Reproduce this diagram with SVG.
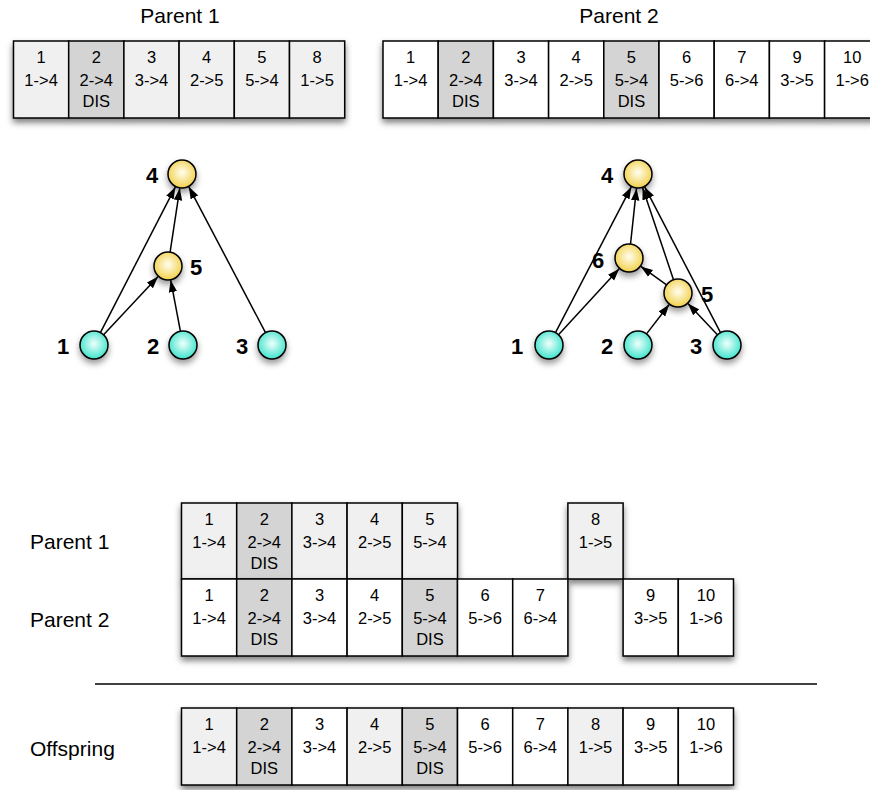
<svg xmlns="http://www.w3.org/2000/svg" width="870" height="790" viewBox="0 0 870 790">
<style>
.w{fill:#ffffff;stroke:#000;stroke-width:1.5}
.l{fill:#f0f0f0;stroke:#000;stroke-width:1.5}
.d{fill:#d4d4d4;stroke:#000;stroke-width:1.5}
.t{font-family:"Liberation Sans",Arial,sans-serif;font-size:16.5px;fill:#000;text-anchor:middle}
.lab{font-family:"Liberation Sans",Arial,sans-serif;font-size:21px;fill:#000}
.num{font-family:"Liberation Sans",Arial,sans-serif;font-size:22px;font-weight:bold;fill:#000;text-anchor:middle}
.e{stroke:#000;stroke-width:1.5;fill:none;marker-end:url(#ar)}
.ny{fill:url(#gy);stroke:#000;stroke-width:1.5}
.nc{fill:url(#gc);stroke:#000;stroke-width:1.5}
</style>
<defs>
<filter id="sh" x="-10%" y="-20%" width="120%" height="150%">
<feDropShadow dx="0" dy="4" stdDeviation="3" flood-color="#000" flood-opacity="0.5"/>
</filter>
<filter id="nsh" x="-50%" y="-50%" width="200%" height="220%">
<feDropShadow dx="0" dy="4" stdDeviation="3" flood-color="#000" flood-opacity="0.4"/>
</filter>
<radialGradient id="gy" cx="50%" cy="45%" r="55%">
<stop offset="0" stop-color="#fffef0"/>
<stop offset="1" stop-color="#f2d04a"/>
</radialGradient>
<radialGradient id="gc" cx="50%" cy="45%" r="55%">
<stop offset="0" stop-color="#f0fffc"/>
<stop offset="1" stop-color="#3ee4cc"/>
</radialGradient>
<marker id="ar" viewBox="0 0 12 10" refX="12" refY="5" markerWidth="12" markerHeight="10" markerUnits="userSpaceOnUse" orient="auto">
<path d="M0,0.8 L12,5 L0,9.2 z" fill="#000"/>
</marker>
</defs>
<rect width="870" height="790" fill="#fff"/>

<text class="lab" x="180" y="23" text-anchor="middle">Parent 1</text>
<text class="lab" x="619" y="23" text-anchor="middle">Parent 2</text>

<g id="genome-parent1-top" filter="url(#sh)">
<rect class="l" x="13.5" y="41" width="55.2" height="77"/>
<rect class="d" x="68.7" y="41" width="55.2" height="77"/>
<rect class="l" x="123.9" y="41" width="55.2" height="77"/>
<rect class="l" x="179.1" y="41" width="55.2" height="77"/>
<rect class="l" x="234.3" y="41" width="55.2" height="77"/>
<rect class="l" x="289.5" y="41" width="55.2" height="77"/>
</g>
<g id="genome-parent1-top-text">
<text class="t" x="41.1" y="63">1</text><text class="t" x="41.1" y="86">1-&gt;4</text>
<text class="t" x="96.3" y="63">2</text><text class="t" x="96.3" y="86">2-&gt;4</text><text class="t" x="96.3" y="107">DIS</text>
<text class="t" x="151.5" y="63">3</text><text class="t" x="151.5" y="86">3-&gt;4</text>
<text class="t" x="206.7" y="63">4</text><text class="t" x="206.7" y="86">2-&gt;5</text>
<text class="t" x="261.9" y="63">5</text><text class="t" x="261.9" y="86">5-&gt;4</text>
<text class="t" x="317.1" y="63">8</text><text class="t" x="317.1" y="86">1-&gt;5</text>
</g>

<g id="genome-parent2-top" filter="url(#sh)">
<rect class="w" x="383" y="41" width="55.2" height="77"/>
<rect class="d" x="438.2" y="41" width="55.2" height="77"/>
<rect class="w" x="493.4" y="41" width="55.2" height="77"/>
<rect class="w" x="548.6" y="41" width="55.2" height="77"/>
<rect class="d" x="603.8" y="41" width="55.2" height="77"/>
<rect class="w" x="659" y="41" width="55.2" height="77"/>
<rect class="w" x="714.2" y="41" width="55.2" height="77"/>
<rect class="w" x="769.4" y="41" width="55.2" height="77"/>
<rect class="w" x="824.6" y="41" width="55.2" height="77"/>
</g>
<g id="genome-parent2-top-text">
<text class="t" x="410.6" y="63">1</text><text class="t" x="410.6" y="86">1-&gt;4</text>
<text class="t" x="465.8" y="63">2</text><text class="t" x="465.8" y="86">2-&gt;4</text><text class="t" x="465.8" y="107">DIS</text>
<text class="t" x="521" y="63">3</text><text class="t" x="521" y="86">3-&gt;4</text>
<text class="t" x="576.2" y="63">4</text><text class="t" x="576.2" y="86">2-&gt;5</text>
<text class="t" x="631.4" y="63">5</text><text class="t" x="631.4" y="86">5-&gt;4</text><text class="t" x="631.4" y="107">DIS</text>
<text class="t" x="686.6" y="63">6</text><text class="t" x="686.6" y="86">5-&gt;6</text>
<text class="t" x="741.8" y="63">7</text><text class="t" x="741.8" y="86">6-&gt;4</text>
<text class="t" x="797" y="63">9</text><text class="t" x="797" y="86">3-&gt;5</text>
<text class="t" x="852.2" y="63">10</text><text class="t" x="852.2" y="86">1-&gt;6</text>
</g>

<g id="connectors">
<line class="e" x1="100.4" y1="332.6" x2="175.4" y2="186.9"/>
<line class="e" x1="103.6" y1="334.8" x2="158.1" y2="276.6"/>
<line class="e" x1="180.4" y1="331.2" x2="170.7" y2="280.2"/>
<line class="e" x1="170.1" y1="252.2" x2="179.8" y2="188.3"/>
<line class="e" x1="265.5" y1="332.6" x2="188.8" y2="186.8"/>
<line class="e" x1="555.5" y1="332.6" x2="631.3" y2="186.9"/>
<line class="e" x1="558.5" y1="334.7" x2="619.2" y2="268.7"/>
<line class="e" x1="630.5" y1="244.1" x2="636.5" y2="188.4"/>
<line class="e" x1="673.5" y1="279.7" x2="642.6" y2="187.7"/>
<line class="e" x1="720.5" y1="332.6" x2="644.7" y2="186.9"/>
<line class="e" x1="666.6" y1="284.9" x2="640.8" y2="266.4"/>
<line class="e" x1="646.5" y1="333.9" x2="669.2" y2="304.5"/>
<line class="e" x1="717.4" y1="334.8" x2="687.9" y2="303.6"/>
</g>

<g id="p1-node4"><circle class="ny" cx="182" cy="174" r="14" filter="url(#nsh)"/><text class="num" x="152" y="183">4</text></g>
<g id="p1-node5"><circle class="ny" cx="168" cy="266" r="14" filter="url(#nsh)"/><text class="num" x="196" y="275">5</text></g>
<g id="p1-node1"><circle class="nc" cx="94" cy="345" r="14" filter="url(#nsh)"/><text class="num" x="63" y="354">1</text></g>
<g id="p1-node2"><circle class="nc" cx="183" cy="345" r="14" filter="url(#nsh)"/><text class="num" x="153" y="354">2</text></g>
<g id="p1-node3"><circle class="nc" cx="272" cy="345" r="14" filter="url(#nsh)"/><text class="num" x="242" y="354">3</text></g>

<g id="p2-node4"><circle class="ny" cx="638" cy="174" r="14" filter="url(#nsh)"/><text class="num" x="607" y="183">4</text></g>
<g id="p2-node6"><circle class="ny" cx="629" cy="258" r="14" filter="url(#nsh)"/><text class="num" x="598" y="268">6</text></g>
<g id="p2-node5"><circle class="ny" cx="678" cy="293" r="14" filter="url(#nsh)"/><text class="num" x="707" y="302">5</text></g>
<g id="p2-node1"><circle class="nc" cx="549" cy="345" r="14" filter="url(#nsh)"/><text class="num" x="517" y="354">1</text></g>
<g id="p2-node2"><circle class="nc" cx="638" cy="345" r="14" filter="url(#nsh)"/><text class="num" x="607" y="354">2</text></g>
<g id="p2-node3"><circle class="nc" cx="727" cy="345" r="14" filter="url(#nsh)"/><text class="num" x="696" y="354">3</text></g>

<text class="lab" x="30" y="549">Parent 1</text>
<text class="lab" x="30" y="627">Parent 2</text>
<text class="lab" x="30" y="756">Offspring</text>

<g id="genome-parent1-bottom" filter="url(#sh)">
<rect class="l" x="181.5" y="503" width="55.2" height="76"/>
<rect class="d" x="236.7" y="503" width="55.2" height="76"/>
<rect class="l" x="291.9" y="503" width="55.2" height="76"/>
<rect class="l" x="347.1" y="503" width="55.2" height="76"/>
<rect class="l" x="402.3" y="503" width="55.2" height="76"/>
<rect class="l" x="567.9" y="503" width="55.2" height="76"/>
</g>
<g id="genome-parent2-bottom" filter="url(#sh)">
<rect class="w" x="181.5" y="579" width="55.2" height="77"/>
<rect class="d" x="236.7" y="579" width="55.2" height="77"/>
<rect class="w" x="291.9" y="579" width="55.2" height="77"/>
<rect class="w" x="347.1" y="579" width="55.2" height="77"/>
<rect class="d" x="402.3" y="579" width="55.2" height="77"/>
<rect class="w" x="457.5" y="579" width="55.2" height="77"/>
<rect class="w" x="512.7" y="579" width="55.2" height="77"/>
<rect class="w" x="623.1" y="579" width="55.2" height="77"/>
<rect class="w" x="678.3" y="579" width="55.2" height="77"/>
</g>
<g id="genome-bottom-text">
<text class="t" x="209.1" y="525">1</text><text class="t" x="209.1" y="548">1-&gt;4</text>
<text class="t" x="264.3" y="525">2</text><text class="t" x="264.3" y="548">2-&gt;4</text><text class="t" x="264.3" y="569">DIS</text>
<text class="t" x="319.5" y="525">3</text><text class="t" x="319.5" y="548">3-&gt;4</text>
<text class="t" x="374.7" y="525">4</text><text class="t" x="374.7" y="548">2-&gt;5</text>
<text class="t" x="429.9" y="525">5</text><text class="t" x="429.9" y="548">5-&gt;4</text>
<text class="t" x="595.5" y="525">8</text><text class="t" x="595.5" y="548">1-&gt;5</text>

<text class="t" x="209.1" y="601">1</text><text class="t" x="209.1" y="624">1-&gt;4</text>
<text class="t" x="264.3" y="601">2</text><text class="t" x="264.3" y="624">2-&gt;4</text><text class="t" x="264.3" y="645">DIS</text>
<text class="t" x="319.5" y="601">3</text><text class="t" x="319.5" y="624">3-&gt;4</text>
<text class="t" x="374.7" y="601">4</text><text class="t" x="374.7" y="624">2-&gt;5</text>
<text class="t" x="429.9" y="601">5</text><text class="t" x="429.9" y="624">5-&gt;4</text><text class="t" x="429.9" y="645">DIS</text>
<text class="t" x="485.1" y="601">6</text><text class="t" x="485.1" y="624">5-&gt;6</text>
<text class="t" x="540.3" y="601">7</text><text class="t" x="540.3" y="624">6-&gt;4</text>
<text class="t" x="650.7" y="601">9</text><text class="t" x="650.7" y="624">3-&gt;5</text>
<text class="t" x="705.9" y="601">10</text><text class="t" x="705.9" y="624">1-&gt;6</text>
</g>

<line id="divider" x1="95" y1="684" x2="817" y2="684" stroke="#000" stroke-width="1.5"/>

<g id="genome-offspring" filter="url(#sh)">
<rect class="l" x="181.5" y="708" width="55.2" height="77"/>
<rect class="d" x="236.7" y="708" width="55.2" height="77"/>
<rect class="w" x="291.9" y="708" width="55.2" height="77"/>
<rect class="l" x="347.1" y="708" width="55.2" height="77"/>
<rect class="d" x="402.3" y="708" width="55.2" height="77"/>
<rect class="w" x="457.5" y="708" width="55.2" height="77"/>
<rect class="w" x="512.7" y="708" width="55.2" height="77"/>
<rect class="l" x="567.9" y="708" width="55.2" height="77"/>
<rect class="w" x="623.1" y="708" width="55.2" height="77"/>
<rect class="w" x="678.3" y="708" width="55.2" height="77"/>
</g>
<g id="genome-offspring-text">
<text class="t" x="209.1" y="730">1</text><text class="t" x="209.1" y="753">1-&gt;4</text>
<text class="t" x="264.3" y="730">2</text><text class="t" x="264.3" y="753">2-&gt;4</text><text class="t" x="264.3" y="774">DIS</text>
<text class="t" x="319.5" y="730">3</text><text class="t" x="319.5" y="753">3-&gt;4</text>
<text class="t" x="374.7" y="730">4</text><text class="t" x="374.7" y="753">2-&gt;5</text>
<text class="t" x="429.9" y="730">5</text><text class="t" x="429.9" y="753">5-&gt;4</text><text class="t" x="429.9" y="774">DIS</text>
<text class="t" x="485.1" y="730">6</text><text class="t" x="485.1" y="753">5-&gt;6</text>
<text class="t" x="540.3" y="730">7</text><text class="t" x="540.3" y="753">6-&gt;4</text>
<text class="t" x="595.5" y="730">8</text><text class="t" x="595.5" y="753">1-&gt;5</text>
<text class="t" x="650.7" y="730">9</text><text class="t" x="650.7" y="753">3-&gt;5</text>
<text class="t" x="705.9" y="730">10</text><text class="t" x="705.9" y="753">1-&gt;6</text>
</g>
</svg>
